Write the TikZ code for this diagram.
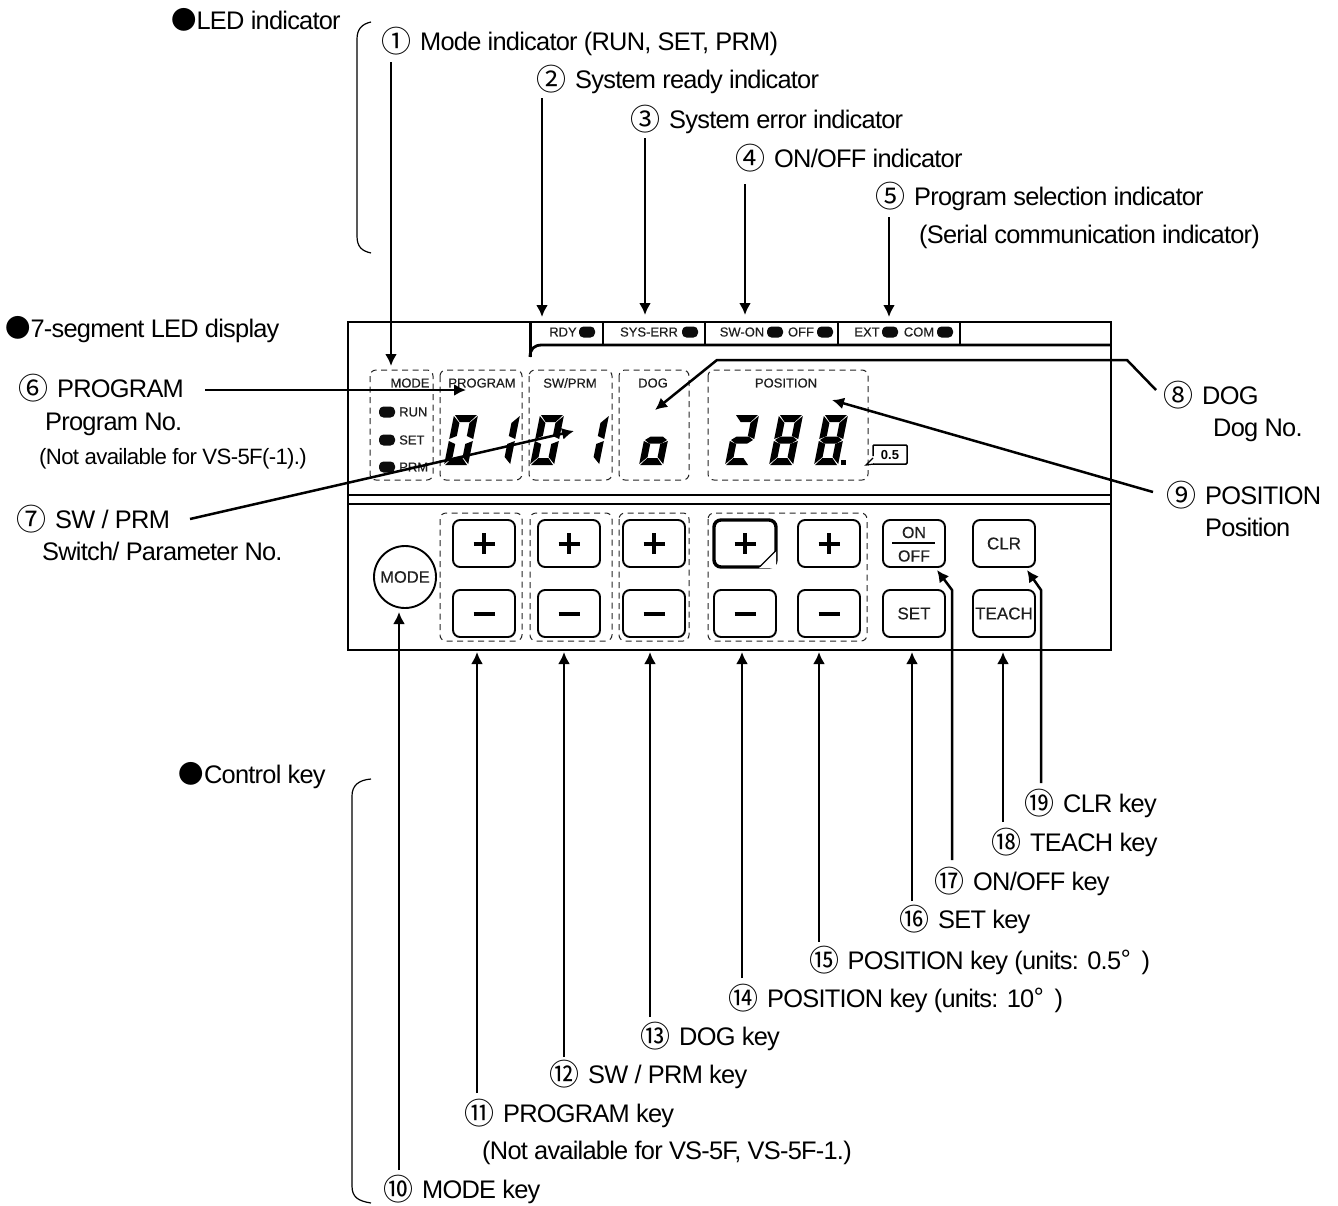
\documentclass[tikz,border=0pt]{standalone}
\usepackage{fontspec}
\setmainfont{Liberation Sans}
\newfontfamily\lab[LetterSpace=-3]{Liberation Sans}
\newfontfamily\ptf[FakeBold=0.35]{Liberation Sans}
\newfontfamily\cjk{Noto Sans CJK JP}
\usetikzlibrary{arrows.meta}
\newcommand{\nl}[2]{\makebox[38.4pt][l]{\raisebox{-2pt}{\fontsize{30}{30}\selectfont\cjk #1}}#2}
\newcommand{\pill}[2]{\fill[pillc,rounded corners=4.5pt] (#1-8,#2-5.5) rectangle (#1+8,#2+5.5);}
\tikzset{
  lbl/.style={anchor=base west,inner sep=0pt,text=black,font=\fontsize{25.4}{28}\selectfont\lab},
  hdr/.style={lbl},
  small/.style={lbl,font=\fontsize{22.2}{24}\selectfont\lab},
  ptxt/.style={inner sep=0pt,text=ptext,font=\fontsize{13}{15}\selectfont\ptf},
  keytxt/.style={inner sep=0pt,text=ptext,font=\fontsize{17}{20}\selectfont\ptf},
  panel/.style={draw=black,line width=2.8pt},
  dbox/.style={draw=black!85,line width=1pt,dash pattern=on 6pt off 4.5pt,rounded corners=6pt},
  keybox/.style={draw=black,line width=1.9pt,rounded corners=7pt,fill=white},
  arr/.style={draw=black,line width=2.5pt,-{Latex[length=12pt,width=12pt]},line join=round},
  brk/.style={draw=black,line width=1.2pt},
  signs/.style={line width=4pt,draw=black},
}
\definecolor{pillc}{gray}{0.05}
\definecolor{ptext}{gray}{0.12}
% seven segments: local box 24 x 50, origin at top-left, slanted
\newcommand{\segA}{\fill (1,0)--(23,0)--(17,7)--(7,7)--cycle;}
\newcommand{\segB}{\fill (24,1)--(24,24)--(17,21)--(17,8)--cycle;}
\newcommand{\segC}{\fill (24,26)--(24,49)--(17,42)--(17,29)--cycle;}
\newcommand{\segD}{\fill (1,50)--(23,50)--(17,43)--(7,43)--cycle;}
\newcommand{\segE}{\fill (0,26)--(0,49)--(7,42)--(7,29)--cycle;}
\newcommand{\segF}{\fill (0,1)--(0,24)--(7,21)--(7,8)--cycle;}
\newcommand{\segG}{\fill (1,25)--(6,21.5)--(18,21.5)--(23,25)--(18,28.5)--(6,28.5)--cycle;}
\newcommand{\digit}[2]{\begin{scope}[shift={(#1,415)},xslant=0.2,fill=black]#2\end{scope}}
\begin{document}
\begin{tikzpicture}[x=1pt,y=-1pt]
\fill[white] (0,0) rectangle (1338,1205);
\useasboundingbox (0,0) rectangle (1338,1205);

% section headings
\node[hdr] (hLED) at (171,29) {{\cjk ●}LED indicator};
\node[hdr] (hSEG) at (5,337) {{\cjk ●}7-segment LED display};
\node[hdr] (hKEY) at (178.5,783) {{\cjk ●}Control key};

% brackets
\draw[brk] (371,22) .. controls (362,24) and (357,29) .. (357,39) -- (357,236) .. controls (357,247) and (362,251) .. (371,253);
\draw[brk] (371,779) .. controls (358,780) and (352,786) .. (352,796) -- (352,1186) .. controls (352,1197) and (358,1201) .. (371,1203);

% panel
\draw[panel] (348,322) rectangle (1111,650);
\draw[panel,line width=2pt] (348,495) -- (1111,495);
\draw[panel,line width=2pt] (348,504) -- (1111,504);
\draw[panel,line width=3pt] (530,322) -- (530,357);
\draw[panel] (530,357) .. controls (530,349) and (534,345) .. (542,345) -- (1111,345);
\foreach \sx in {603,705,838,960} \draw[panel] (\sx,322) -- (\sx,345);

% dashed groups, upper
\draw[dbox] (370,370) rectangle (433,480);
\draw[dbox] (440,370) rectangle (522,480);
\draw[dbox] (529,370) rectangle (612,480);
\draw[dbox] (619,370) rectangle (689,480);
\draw[dbox] (708,370) rectangle (868,480);
% dashed groups, lower
\draw[dbox] (440,513) rectangle (522,641);
\draw[dbox] (530,513) rectangle (612,641);
\draw[dbox] (619,513) rectangle (689,641);
\draw[dbox] (708,513) rectangle (867,641);

% tab texts
\node[ptxt] (tRDY) at (563,332) {RDY};
\pill{587}{332}
\node[ptxt] (tSYS) at (649,332) {SYS-ERR};
\pill{690}{332}
\node[ptxt] (tSWON) at (742,332) {SW-ON};
\pill{775}{332}
\node[ptxt] (tOFF) at (801,332) {OFF};
\pill{825}{332}
\node[ptxt] (tEXT) at (867,332) {EXT};
\pill{890}{332}
\node[ptxt] (tCOM) at (919,332) {COM};
\pill{945}{332}

% group titles
\node[ptxt] (tMODE) at (410,383) {MODE};
\node[ptxt] (tPROG) at (482,383) {PROGRAM};
\node[ptxt] (tSW) at (570,383) {SW/PRM};
\node[ptxt] (tDOG) at (653,383) {DOG};
\node[ptxt] (tPOS) at (786,383) {POSITION};

% mode LEDs
\pill{387}{412}
\node[ptxt,anchor=west] (tRUN) at (399,412) {RUN};
\pill{387}{440}
\node[ptxt,anchor=west] (tSET) at (399,440) {SET};
\pill{387}{467}
\node[ptxt,anchor=west] (tPRM) at (399,467) {PRM};

% digits
\digit{454}{\segA\segB\segC\segD\segE\segF}
\digit{496}{\segB\segC}
\digit{540}{\segA\segB\segC\segD\segE\segF}
\digit{585}{\segB\segC}
\digit{649}{\segC\segD\segE\segG}
\digit{735}{\segA\segB\segD\segE\segG}
\digit{779}{\segA\segB\segC\segD\segE\segF\segG}
\digit{824}{\segA\segB\segC\segD\segE\segF\segG}
\fill (840.5,459.5) rectangle (845.5,464.5);

% 0.5 tag
\draw[line width=1.5pt,rounded corners=1pt] (873,456) -- (873,445) -- (907,445) -- (907,464) -- (873,464);
\draw[line width=1.2pt] (873,458) -- (866,465) -- (874,464);
\node[inner sep=0pt,font=\bfseries\fontsize{13}{15}\selectfont] (t05) at (890,455) {0.5};

% MODE key
\node[circle,draw=black,line width=1.9pt,minimum size=62pt,inner sep=0pt,font=\fontsize{16.5}{20}\selectfont\ptf,text=ptext] (kMODE) at (405,577) {MODE};

% +/- keys
\foreach \kx in {453,538,623,714,798}{
  \draw[keybox] (\kx,520) rectangle +(62,47);
  \draw[keybox] (\kx,590) rectangle +(62,47);
  \draw[signs] (\kx+20.5,613.5) -- +(21,0);
}
\draw[keybox,line width=3.4pt] (714,520) rectangle (776,567);
\fill[white] (759,568) -- (776,568) -- (776,551) -- cycle;
\draw[line width=1.2pt] (760,566.5) -- (775.5,551);
\foreach \kx in {453,538,623,714,798}{
  \draw[signs] (\kx+20.5,543.5) -- +(21,0);
  \draw[signs] (\kx+31,533) -- +(0,21);
}

% other keys
\node[keybox,minimum width=62pt,minimum height=47pt,inner sep=0pt] (kONOFF) at (914,543.5) {};
\draw[line width=1.4pt] (892,543) -- (935,543);
\node[inner sep=0pt,text=ptext,font=\fontsize{16}{18}\selectfont\ptf] (tON) at (914,532.5) {ON};
\node[inner sep=0pt,text=ptext,font=\fontsize{16}{18}\selectfont\ptf] (tOFFk) at (914,556) {OFF};
\node[keybox,minimum width=62pt,minimum height=47pt,inner sep=0pt,keytxt] (kSET) at (914,613.5) {SET};
\node[keybox,minimum width=62pt,minimum height=47pt,inner sep=0pt,keytxt] (kCLR) at (1004,543.5) {CLR};
\node[keybox,minimum width=62pt,minimum height=47pt,inner sep=0pt,keytxt] (kTEACH) at (1004,613.5) {TEACH};

% labels: node x = text x - 38.4
\node[lbl] (n1) at (381.6,50) {\nl{①}{Mode indicator (RUN, SET, PRM)}};
\node[lbl] (n2) at (536.6,88) {\nl{②}{System ready indicator}};
\node[lbl] (n3) at (630.6,128) {\nl{③}{System error indicator}};
\node[lbl] (n4) at (735.6,167) {\nl{④}{ON/OFF indicator}};
\node[lbl] (n5) at (875.6,205) {\nl{⑤}{Program selection indicator}};
\node[lbl] (n5b) at (919,243) {(Serial communication indicator)};
\node[lbl] (n6) at (18.6,397) {\nl{⑥}{PROGRAM}};
\node[lbl] (n6b) at (45,430) {Program No.};
\node[small] (n6c) at (39,464) {(Not available for VS-5F(-1).)};
\node[lbl] (n7) at (16.6,528) {\nl{⑦}{SW / PRM}};
\node[lbl] (n7b) at (42,560) {Switch/ Parameter No.};
\node[lbl] (n8) at (1163.6,404) {\nl{⑧}{DOG}};
\node[lbl] (n8b) at (1213,436) {Dog No.};
\node[lbl] (n9) at (1166.6,504) {\nl{⑨}{POSITION}};
\node[lbl] (n9b) at (1205,536) {Position};
\node[lbl] (n10) at (383.6,1198) {\nl{⑩}{MODE key}};
\node[lbl] (n11) at (464.6,1122) {\nl{⑪}{PROGRAM key}};
\node[lbl] (n11b) at (482,1159) {(Not available for VS-5F, VS-5F-1.)};
\node[lbl] (n12) at (549.6,1083) {\nl{⑫}{SW / PRM key}};
\node[lbl] (n13) at (640.6,1045) {\nl{⑬}{DOG key}};
\node[lbl] (n14) at (728.6,1007) {\nl{⑭}{POSITION key (units: 10{\cjk °}\hspace{11pt})}};
\node[lbl] (n15) at (809.1,969) {\nl{⑮}{POSITION key (units: 0.5{\cjk °}\hspace{11pt})}};
\node[lbl] (n16) at (899.6,928) {\nl{⑯}{SET key}};
\node[lbl] (n17) at (934.6,890) {\nl{⑰}{ON/OFF key}};
\node[lbl] (n18) at (991.6,851) {\nl{⑱}{TEACH key}};
\node[lbl] (n19) at (1024.6,812) {\nl{⑲}{CLR key}};

% connector ends
\coordinate (s1) at (391,62);   \coordinate (e1) at (391,366);
\coordinate (s2) at (542,98);   \coordinate (e2) at (542,317);
\coordinate (s3) at (645,138);  \coordinate (e3) at (645,315);
\coordinate (s4) at (745,184);  \coordinate (e4) at (745,315);
\coordinate (s5) at (889,217);  \coordinate (e5) at (889,317);
\coordinate (s6) at (205,390);  \coordinate (e6) at (466,390);
\coordinate (s7) at (190,519);  \coordinate (e7) at (574,431);
\coordinate (s8) at (1156,390); \coordinate (b8a) at (1127,360); \coordinate (b8b) at (717,360); \coordinate (e8) at (655,410);
\coordinate (s9) at (1153,492); \coordinate (e9) at (832,400);
\coordinate (s10) at (399,1170); \coordinate (e10) at (399,612);
\coordinate (s11) at (477,1093); \coordinate (e11) at (477,652);
\coordinate (s12) at (564,1057); \coordinate (e12) at (564,652);
\coordinate (s13) at (650,1017); \coordinate (e13) at (650,652);
\coordinate (s14) at (742,978);  \coordinate (e14) at (742,652);
\coordinate (s15) at (819,942);  \coordinate (e15) at (819,652);
\coordinate (s16) at (912,901);  \coordinate (e16) at (912,652);
\coordinate (s17) at (952,860);  \coordinate (b17) at (952,590); \coordinate (e17) at (937,570);
\coordinate (s18) at (1003,822); \coordinate (e18) at (1003,652);
\coordinate (s19) at (1041,783); \coordinate (b19) at (1041,590); \coordinate (e19) at (1027,570);

\foreach \k in {1,...,7,9,10,11,12,13,14,15,16,18} \draw[arr] (s\k) -- (e\k);
\draw[arr] (s8) -- (b8a) -- (b8b) -- (e8);
\draw[arr] (s17) -- (b17) -- (e17);
\draw[arr] (s19) -- (b19) -- (e19);
\end{tikzpicture}
\end{document}
